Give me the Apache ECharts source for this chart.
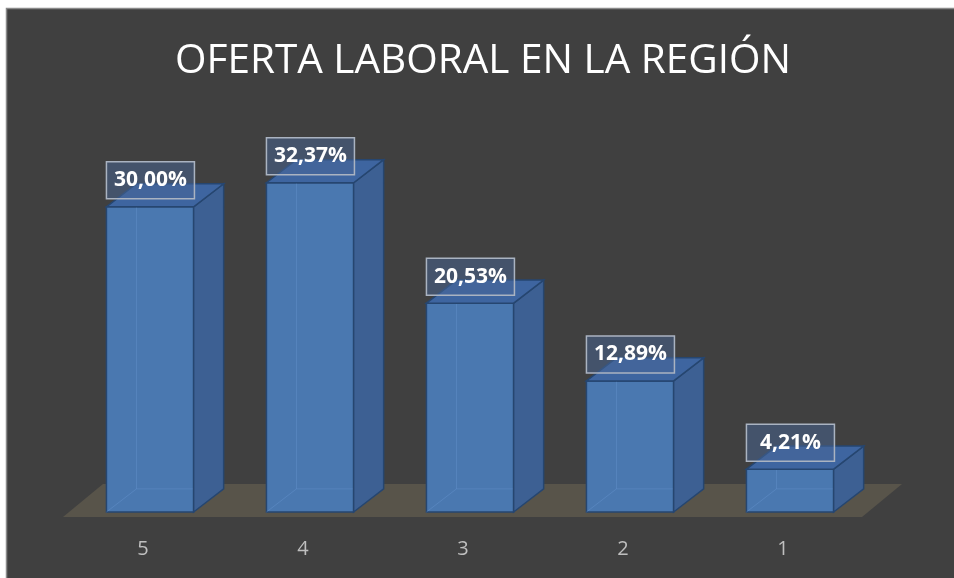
<!DOCTYPE html>
<html>
<head>
<meta charset="utf-8">
<script src="https://cdn.jsdelivr.net/npm/echarts@6/dist/echarts.min.js"></script>
<style>
html,body{margin:0;padding:0;background:#ffffff;}
#chart{width:954px;height:578px;}
</style>
</head>
<body>
<div id="chart"></div>
<script>
const titleText = 'OFERTA LABORAL EN LA REGIÓN';
const categories = ['5', '4', '3', '2', '1'];
const values = [30.00, 32.37, 20.53, 12.89, 4.21];

function fmt(v) { return v.toFixed(2).replace('.', ',') + '%'; }

const chart = echarts.init(document.getElementById('chart'), null, { renderer: 'canvas' });

function renderFloor(params, api) {
  const cs = params.coordSys;
  const band = api.size([1, 0])[0];
  const dx = band * 0.25, dy = -33;
  const yF = cs.y + cs.height + 5;
  const xl = cs.x, xr = cs.x + cs.width - 1;
  return {
    type: 'polygon',
    shape: { points: [[xl, yF], [xl + dx, yF + dy], [xr + dx, yF + dy], [xr, yF]] },
    style: { fill: '#58544a' }
  };
}

function renderBar(params, api) {
  const i = api.value(0), v = api.value(1);
  const top = api.coord([i, v]);
  const base = api.coord([i, 0]);
  const band = api.size([1, 0])[0];
  const w = band * 0.545, off = band * 0.044;
  const x0 = top[0] + off - w / 2, x1 = x0 + w;
  const yT = top[1], yB = base[1];
  const dx = band * 0.1875, dy = -dx * 0.77;
  const edge = '#264670';
  const bw = band * 0.55, bh = 37;
  return {
    type: 'group',
    children: [
      { type: 'rect', shape: { x: x0, y: yT, width: w, height: yB - yT },
        style: { fill: '#4a78b0', stroke: edge, lineWidth: 1.5 } },
      { type: 'polyline', shape: { points: [[x0 + dx, yT + dy], [x0 + dx, yB + dy], [x1 + dx, yB + dy]] },
        style: { fill: null, stroke: 'rgba(110,155,215,0.35)', lineWidth: 1 } },
      { type: 'line', shape: { x1: x0, y1: yB, x2: x0 + dx, y2: yB + dy },
        style: { stroke: 'rgba(110,155,215,0.35)', lineWidth: 1 } },
      { type: 'polygon', shape: { points: [[x1, yB], [x1 + dx, yB + dy], [x1 + dx, yT + dy], [x1, yT]] },
        style: { fill: '#3d6093', stroke: edge, lineWidth: 1.5 } },
      { type: 'polygon', shape: { points: [[x0, yT], [x0 + dx, yT + dy], [x1 + dx, yT + dy], [x1, yT]] },
        style: { fill: '#3e65a0', stroke: edge, lineWidth: 1.5 } },
      { type: 'rect', shape: { x: x0, y: yT - 8 - bh, width: bw, height: bh },
        style: { fill: 'rgba(72,102,150,0.5)', stroke: '#aab3c1', lineWidth: 1.5 } },
      { type: 'text', x: x0 + bw / 2, y: yT - 8 - bh / 2,
        style: { text: fmt(v), fill: '#ffffff', font: 'bold 21px "Open Sans", sans-serif',
                 textAlign: 'center', textVerticalAlign: 'middle' } }
    ]
  };
}

const option = {
  backgroundColor: 'transparent',
  animation: false,
  graphic: [{
    type: 'rect', z: -10, silent: true,
    shape: { x: 6.5, y: 8.5, width: 960, height: 600 },
    style: { fill: '#404040', stroke: '#8a8a8a', lineWidth: 1.5 }
  }],
  title: {
    text: titleText,
    left: 170,
    top: 36,
    padding: 5,
    textStyle: { color: '#ffffff', fontFamily: '"Open Sans", sans-serif', fontWeight: 'normal', fontSize: 40.5 }
  },
  grid: { left: 63, right: 91, top: 156, bottom: 66 },
  xAxis: {
    type: 'category',
    data: categories,
    axisLine: { show: false },
    axisTick: { show: false },
    axisLabel: { color: '#bfbfbf', fontSize: 20, margin: 27, fontFamily: '"Open Sans", sans-serif' }
  },
  yAxis: { type: 'value', min: 0, max: 35, show: false },
  series: [
    { type: 'custom', z: 1, renderItem: renderFloor, data: [[0]], silent: true },
    { type: 'custom', z: 2, renderItem: renderBar,
      encode: { x: 0, y: 1 },
      data: values.map((v, i) => [i, v]) }
  ]
};
chart.setOption(option);
</script>
</body>
</html>
